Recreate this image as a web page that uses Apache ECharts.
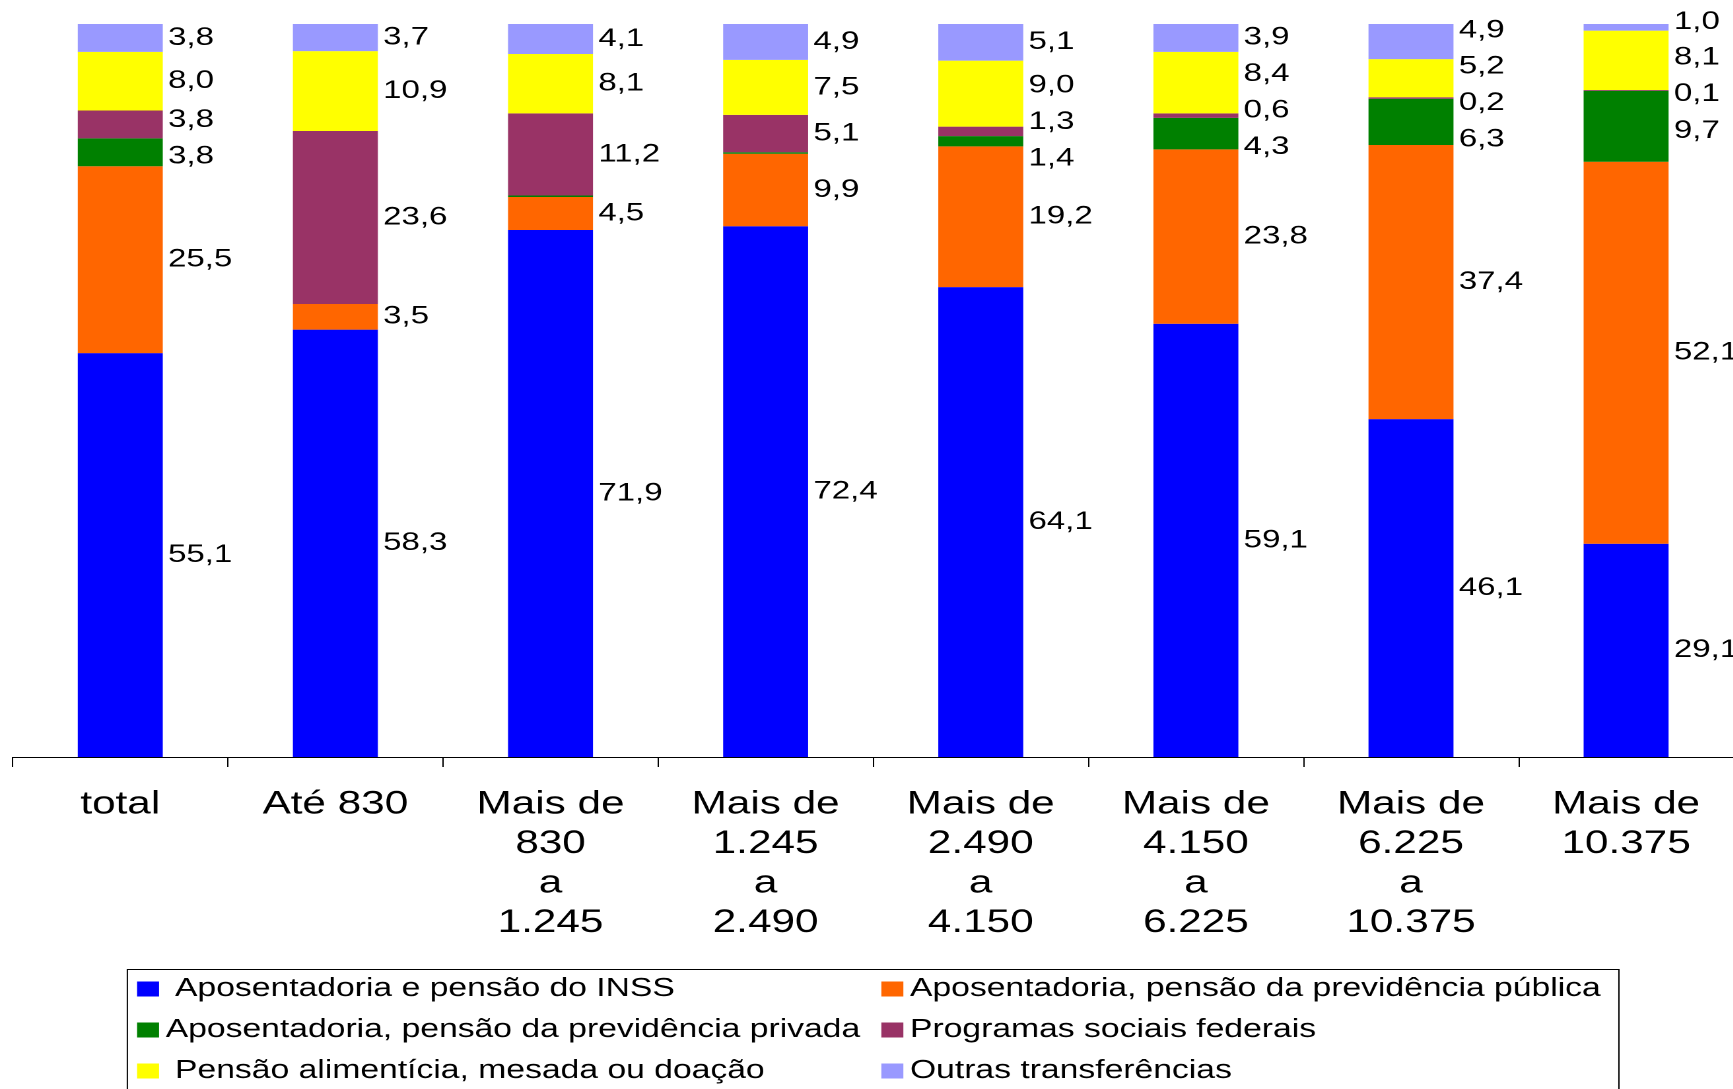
<!DOCTYPE html>
<html>
<head>
<meta charset="utf-8">
<script src="https://cdn.jsdelivr.net/npm/echarts@6/dist/echarts.min.js"></script>
<style>
html,body{margin:0;padding:0;background:#fff;overflow:hidden;width:1733px;height:1089px;}
#chart{position:absolute;left:0;top:0;height:1089px;transform-origin:0 0;}
</style>
</head>
<body>
<div id="chart"></div>
<script>
// ---- data ----
const categories = ['total', 'Até 830', 'Mais de\n830\na\n1.245', 'Mais de\n1.245\na\n2.490',
  'Mais de\n2.490\na\n4.150', 'Mais de\n4.150\na\n6.225', 'Mais de\n6.225\na\n10.375', 'Mais de\n10.375'];
const inss      = [55.1, 58.3, 71.9, 72.4, 64.1, 59.1, 46.1, 29.1];
const publica   = [25.5, 3.5, 4.5, 9.9, 19.2, 23.8, 37.4, 52.1];
const privada   = [3.8, 0, 0.2, 0.2, 1.4, 4.3, 6.3, 9.7];
const programas = [3.8, 23.6, 11.2, 5.1, 1.3, 0.6, 0.2, 0.1];
const pensao    = [8.0, 10.9, 8.1, 7.5, 9.0, 8.4, 5.2, 8.1];
const outras    = [3.8, 3.7, 4.1, 4.9, 5.1, 3.9, 4.9, 1.0];
const seriesNames = [' Aposentadoria e pensão do INSS', 'Aposentadoria, pensão da previdência pública',
  'Aposentadoria, pensão da previdência privada', 'Programas sociais federais',
  ' Pensão alimentícia, mesada ou doação', 'Outras transferências'];

// ---- style ----
const colors = ['#0000FF', '#FF6600', '#008000', '#993366', '#FFFF00', '#9999FF'];
const FONT = "'Liberation Sans', Arial, sans-serif";
const S = 1.32;               // horizontal stretch of the whole picture
const W0 = 1733 / S;
const seriesData = [inss, publica, privada, programas, pensao, outras];
const labelMin = [0, 0, 0.5, 0, 0, 0];

// label de-overlap (value units) per column
const shifts = seriesData.map(a => a.map(() => 0));
categories.forEach((c, i) => {
  let base = 0; const items = [];
  seriesData.forEach((arr, s) => {
    const v = arr[i];
    if (v > 0 && v >= labelMin[s]) items.push({ s, c: base + v / 2, o: base + v / 2 });
    base += v;
  });
  const gap = 5;
  for (let it = 0; it < 100; it++) {
    items.sort((a, b) => a.c - b.c);
    let moved = false;
    for (let k = 0; k < items.length - 1; k++) {
      const d = items[k + 1].c - items[k].c;
      if (d < gap - 1e-6) { const m = (gap - d) / 2; items[k].c -= m; items[k + 1].c += m; moved = true; }
    }
    if (!moved) break;
  }
  items.forEach(o => { shifts[o.s][i] = o.c - o.o; });
});

const dom = document.getElementById('chart');
dom.style.width = W0 + 'px';
dom.style.transform = 'scaleX(' + S + ')';
const chart = echarts.init(dom, null, { renderer: 'canvas', devicePixelRatio: 2, width: W0, height: 1089 });

const legendCommon = {
  orient: 'vertical', top: 976, padding: 0, itemWidth: 22 / S, itemHeight: 15, itemGap: 15,
  icon: 'rect', selectedMode: false,
  textStyle: { fontSize: 25.5, lineHeight: 26, color: '#000', fontFamily: FONT }
};

chart.setOption({
  animation: false,
  backgroundColor: '#fff',
  textStyle: { fontFamily: FONT },
  grid: { left: 12.7 / S, right: 0, top: 24, bottom: 332, containLabel: false },
  xAxis: {
    type: 'category', data: categories,
    axisLine: { show: true, lineStyle: { color: '#000', width: 1 } },
    axisTick: { show: true, length: 10, interval: 0, lineStyle: { color: '#000', width: 1 } },
    axisLabel: { interval: 0, margin: 28, color: '#000', fontSize: 32, lineHeight: 39.5, fontFamily: FONT, align: 'center' }
  },
  yAxis: { type: 'value', min: 0, max: 100, show: false, splitLine: { show: false } },
  legend: [
    Object.assign({}, legendCommon, { left: 137 / S, data: [seriesNames[0], seriesNames[2], seriesNames[4]] }),
    Object.assign({}, legendCommon, { left: 881 / S, data: [seriesNames[1], seriesNames[3], seriesNames[5]] })
  ],
  graphic: [{
    type: 'rect', left: 124 / S, top: 967, silent: true,
    shape: { width: (1615 - 124) / S, height: 200 },
    style: { fill: 'none', stroke: '#000', lineWidth: 1 }
  }],
  series: seriesData.map((arr, s) => ({
    name: seriesNames[s], type: 'bar', stack: 'total', data: arr, barWidth: '39.5%',
    itemStyle: { color: colors[s] },
    emphasis: { disabled: true },
    label: {
      show: true, position: 'right', distance: 4, color: '#000', fontSize: 25, fontFamily: FONT,
      formatter: p => (p.value > 0 && p.value >= labelMin[s]) ? p.value.toFixed(1).replace('.', ',') : ''
    },
    labelLayout: p => {
      const v = seriesData[p.seriesIndex][p.dataIndex];
      if (!v || !p.rect || !p.rect.height) return {};
      const ppu = p.rect.height / v;
      return { dy: -shifts[p.seriesIndex][p.dataIndex] * ppu };
    }
  }))
});
</script>
</body>
</html>
